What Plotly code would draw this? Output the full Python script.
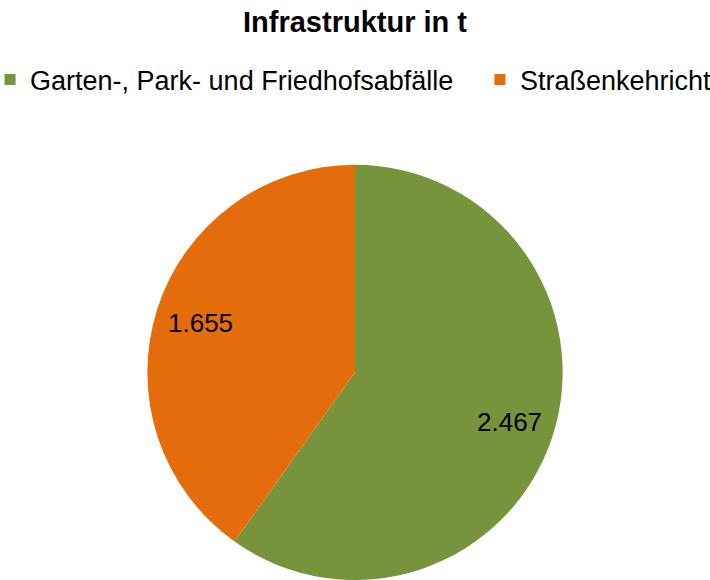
import math
import plotly.graph_objects as go

categories = ["Garten-, Park- und Friedhofsabfälle", "Straßenkehricht"]
values = [2467, 1655]
colors = ["#77933C", "#E46C0A"]

W, H = 710, 580
R = 207.6            # pie radius in px (domain height / 2)
LABEL_FRAC = 0.78    # radial position of the data labels
FONT = "Liberation Sans, Arial"

fig = go.Figure(go.Pie(
    labels=categories,
    values=values,
    marker=dict(colors=colors, line=dict(width=0)),
    sort=False,
    direction="clockwise",
    rotation=0,
    textinfo="none",
    showlegend=False,
    domain=dict(x=[0, 1], y=[0, 0.716]),
    hoverinfo="label+value",
))

# legend entries (one legend per category to reproduce the spacing)
legend_ids = ["legend", "legend2"]
for name, col, lid in zip(categories, colors, legend_ids):
    fig.add_trace(go.Scatter(
        x=[None], y=[None], mode="markers", name=name,
        marker=dict(symbol="square", size=11, color=col, line=dict(width=0)),
        legend=lid, hoverinfo="skip",
    ))

# data labels placed along each slice's mid-angle
total = sum(values)
cum = 0
for v in values:
    mid = (cum + v / 2) / total * 2 * math.pi
    cum += v
    fig.add_annotation(
        x=LABEL_FRAC * R * math.sin(mid), y=LABEL_FRAC * R * math.cos(mid),
        xref="x", yref="y", text=f"{v:,}".replace(",", "."), showarrow=False,
        font=dict(family=FONT, size=26, color="black"),
    )

leg_common = dict(orientation="h", xanchor="left", y=0.862, yanchor="middle",
                  font=dict(size=27, family=FONT, color="black"), itemwidth=30,
                  bgcolor="rgba(0,0,0,0)")

fig.update_layout(
    width=W, height=H,
    margin=dict(l=0, r=0, t=0, b=0, autoexpand=False),
    paper_bgcolor="white",
    plot_bgcolor="rgba(0,0,0,0)",
    font=dict(family=FONT, size=27, color="black"),
    xaxis=dict(range=[-W / 2, W / 2], visible=False, fixedrange=True),
    yaxis=dict(range=[-R, H - R], visible=False, fixedrange=True),
    title=dict(text="<b>Infrastruktur in t</b>", x=0.5, xanchor="center",
               y=0.963, yanchor="middle",
               font=dict(size=29, family=FONT)),
    legend=dict(x=-0.014, **leg_common),
    legend2=dict(x=0.676, **leg_common),
)

fig.write_html("out.html")
